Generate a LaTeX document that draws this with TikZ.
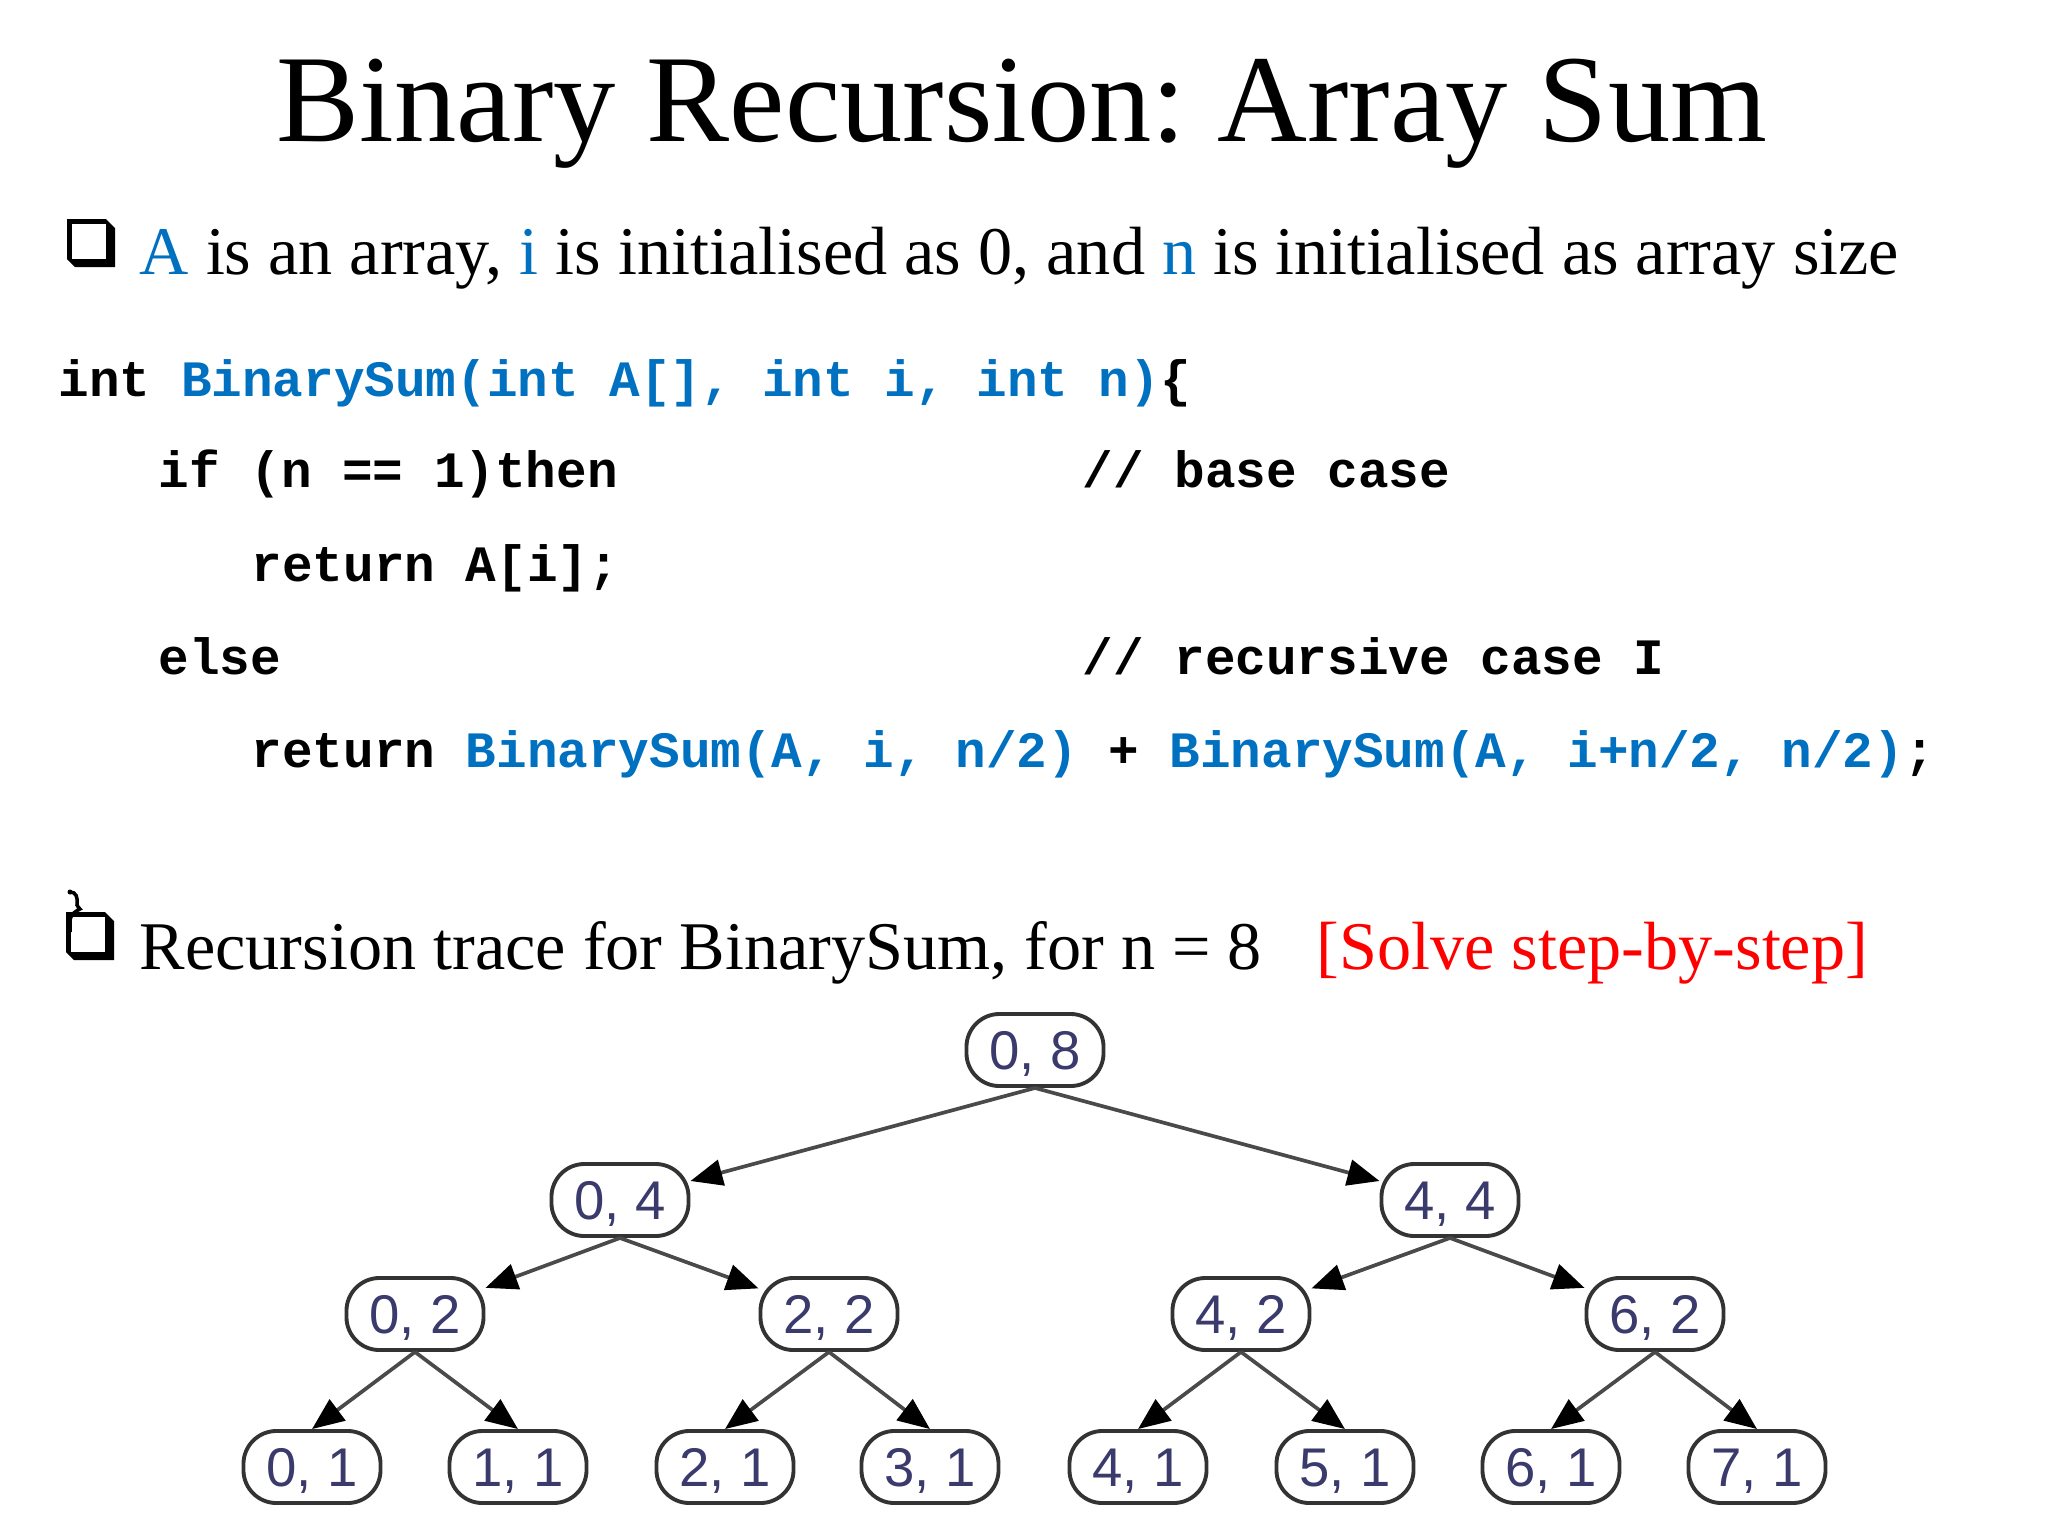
\documentclass[tikz,border=0pt]{standalone}
\usepackage{fontspec}
\setmainfont{Liberation Serif}
\newfontfamily\codefont{Liberation Mono}
\newfontfamily\treefont{Liberation Sans}
\usetikzlibrary{arrows.meta}
\definecolor{codeblue}{HTML}{0070C0}
\definecolor{slidered}{HTML}{FF0000}
\definecolor{treetext}{HTML}{3A3A6C}
\definecolor{edgegray}{HTML}{4A4A4A}
\newcommand\sqbullet[2]{%
  \fill[black] (#1,#2) -- ++(39,0) -- ++(9,9) -- ++(0,39) -- ++(-40,0) -- ++(-8,-8) -- cycle;
  \fill[white] (#1+4.5,#2+4.5) rectangle (#1+39,#2+40);
}
\tikzset{
  titletext/.style={inner sep=0pt, anchor=base, font=\fontsize{35.4}{40}\selectfont\frenchspacing},
  bodytext/.style={inner sep=0pt, anchor=base west, font=\fontsize{19.4}{22}\selectfont\frenchspacing},
  codetext/.style={inner sep=0pt, anchor=base west, font=\codefont\bfseries\fontsize{14.5}{16}\selectfont\frenchspacing},
  tnode/.style={draw=black!80, line width=1.1pt, rounded corners=0.33cm,
    minimum width=1.37cm, minimum height=0.72cm, inner sep=0pt,
    font=\treefont\fontsize{15.5}{15.5}\selectfont, text=treetext,
    text height=11pt, text depth=0pt, fill=white},
  tarrow/.style={draw=edgegray, line width=1.05pt,
    -{Triangle[length=3.2mm,width=2.6mm,color=black]}},
}
\begin{document}
\begin{tikzpicture}[x=0.01cm, y=-0.01cm]
\fill[white] (0,0) rectangle (2048,1536);
\useasboundingbox (0,0) rectangle (2048,1536);

% title
\node[titletext] (title) at (1022,141) {Binary Recursion: Array Sum};

% bullet 1
\sqbullet{67}{219}
\node[bodytext] (l1) at (139,274) {\textcolor{codeblue}{A} is an array, \textcolor{codeblue}{i} is initialised as 0, and \textcolor{codeblue}{n} is initialised as array size};

% code
\node[codetext] (c1) at (58,396) {int \textcolor{codeblue}{BinarySum(int A[], int i, int n)}\{};
\node[codetext] (c2a) at (158,487) {if (n == 1)then};
\node[codetext] (c2b) at (1082,487) {// base case};
\node[codetext] (c3) at (251,581) {return A[i];};
\node[codetext] (c4a) at (158,674) {else};
\node[codetext] (c4b) at (1082,674) {// recursive case I};
\node[codetext] (c5) at (251,767) {return \textcolor{codeblue}{BinarySum(A, i, n/2)} + \textcolor{codeblue}{BinarySum(A, i+n/2, n/2)};};

% bullet 2 with hook
\sqbullet{66}{912}
\draw[line width=1pt, black] (70,892) .. controls (76,892) and (78,897) .. (77,905)
  .. controls (77,907) and (80,908) .. (80,909)
  .. controls (76,911) and (70,914) .. (70,922) -- (70,932);
\fill[black] (70,892) circle (2.5);
\node[bodytext] (l2) at (139,969) {Recursion trace for BinarySum, for n = 8};
\node[bodytext, text=slidered] (l2r) at (1316,969) {[Solve step-by-step]};

% tree nodes
\node[tnode] (n08) at (1035,1050) {0, 8};
\node[tnode] (n04) at (620,1200) {0, 4};
\node[tnode] (n44) at (1450,1200) {4, 4};
\node[tnode] (n02) at (415,1314) {0, 2};
\node[tnode] (n22) at (829,1314) {2, 2};
\node[tnode] (n42) at (1241,1314) {4, 2};
\node[tnode] (n62) at (1655,1314) {6, 2};
\node[tnode] (n01) at (312,1467) {0, 1};
\node[tnode] (n11) at (518,1467) {1, 1};
\node[tnode] (n21) at (725,1467) {2, 1};
\node[tnode] (n31) at (930,1467) {3, 1};
\node[tnode] (n41) at (1138,1467) {4, 1};
\node[tnode] (n51) at (1345,1467) {5, 1};
\node[tnode] (n61) at (1551,1467) {6, 1};
\node[tnode] (n71) at (1757,1467) {7, 1};

% tree edges
\draw[tarrow] (n08.south) -- (n04);
\draw[tarrow] (n08.south) -- (n44);
\draw[tarrow] (n04.south) -- (n02);
\draw[tarrow] (n04.south) -- (n22);
\draw[tarrow] (n44.south) -- (n42);
\draw[tarrow] (n44.south) -- (n62);
\draw[tarrow] (n02.south) -- (n01.north);
\draw[tarrow] (n02.south) -- (n11.north);
\draw[tarrow] (n22.south) -- (n21.north);
\draw[tarrow] (n22.south) -- (n31.north);
\draw[tarrow] (n42.south) -- (n41.north);
\draw[tarrow] (n42.south) -- (n51.north);
\draw[tarrow] (n62.south) -- (n61.north);
\draw[tarrow] (n62.south) -- (n71.north);
\end{tikzpicture}
\end{document}
